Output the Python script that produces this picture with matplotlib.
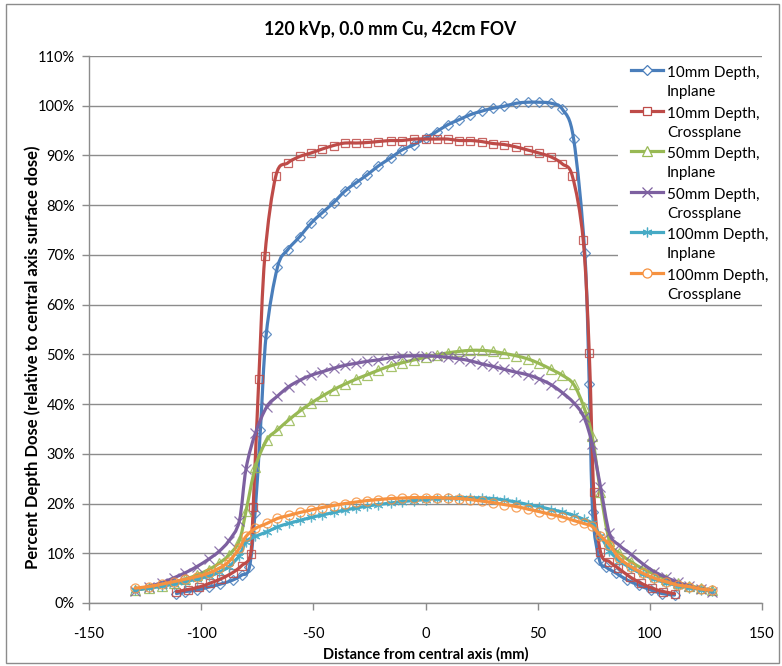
import matplotlib
matplotlib.use("Agg")
import matplotlib.pyplot as plt
from matplotlib.path import Path
from matplotlib.patches import PathPatch, Rectangle
from matplotlib.lines import Line2D
from matplotlib.legend_handler import HandlerLine2D
from matplotlib.ticker import FuncFormatter, MultipleLocator
import numpy as np

plt.rcParams['font.family'] = ['Lato', 'DejaVu Sans']
plt.rcParams['axes.unicode_minus'] = False

# ---- data: distance from central axis (mm) and percent depth dose (%) ----
x_10_in = [-111, -107, -102, -96.7, -91.4, -86, -82, -78.5, -76, -73.6, -71, -66,
           -61.5, -56, -51, -46, -41, -36, -31, -26, -21, -15.5, -10.5, -5, 0, 5,
           10, 15, 20, 25, 30, 35, 40.5, 45.5, 50.5, 56, 61, 66, 71, 73, 74.5, 77.5,
           80.5, 85, 90, 95, 100.5, 105.5, 111]
y_10_in = [1.9, 2.3, 2.6, 3.2, 3.8, 4.6, 5.6, 7.2, 18, 34.8, 54, 67.5,
           71, 73.7, 76.4, 78.5, 80.5, 82.8, 84.5, 86.1, 87.9, 89.5, 91.1, 92.2, 93.5, 94.8,
           96.2, 97.2, 98.2, 98.9, 99.5, 99.9, 100.5, 100.7, 100.7, 100.5, 99.3, 93.4, 70.4, 44, 18.4, 8.7,
           7.2, 6.0, 4.6, 3.6, 2.6, 1.9, 1.6]

x_10_cross = [-111, -106, -101, -96, -91, -86, -82, -78, -76.8, -74.3, -71.6, -66.7,
              -61.4, -56, -51, -46, -41, -36, -31, -26, -21, -15.5, -10.5, -5, 0, 5,
              10, 15, 20, 25, 30, 35, 40.5, 45.5, 50.5, 56, 61, 65.5, 70.3, 73, 75, 78,
              82, 86, 91, 96, 101, 106, 111]
y_10_cross = [2.3, 2.7, 3.2, 4.0, 4.9, 6.1, 7.5, 9.8, 19.4, 45.1, 69.8, 85.9,
              88.5, 89.8, 90.5, 91.3, 92.0, 92.5, 92.5, 92.6, 92.8, 93.0, 93.0, 93.3, 93.3, 93.3,
              93.3, 93.0, 93.0, 92.8, 92.4, 92.2, 91.7, 91.1, 90.5, 89.7, 88.3, 85.8, 73.0, 50.3, 22.4, 10.3,
              8.3, 7.0, 5.3, 4.0, 3.0, 2.3, 1.9]

x_deep = [-129.4, -123.4, -117.5, -112, -107, -102, -96.7, -92, -87.7, -83, -80, -75.8,
          -70.7, -66, -61, -56, -51, -46, -41, -36, -31, -26, -21, -15.5, -10.5, -5, 0,
          5, 10, 15, 20, 25, 30, 35, 40.5, 45.5, 50.5, 56, 61, 66, 70.5, 74.3, 78, 82,
          86.4, 91.6, 96.8, 102, 107, 112.4, 117.6, 122.8, 127.8]

y_50_in = [2.6, 3.0, 3.5, 4.1, 4.8, 5.6, 6.7, 8.0, 9.6, 12.5, 18.5, 27.4,
           32.8, 34.8, 36.8, 38.6, 40.2, 41.6, 42.9, 44.0, 45.0, 45.9, 46.8, 47.7, 48.3, 48.9, 49.4,
           49.9, 50.3, 50.6, 50.8, 50.8, 50.6, 50.2, 49.7, 49.1, 48.2, 47.0, 45.8, 44.0, 39.5, 33.5, 22.4, 12.5,
           10.0, 8.3, 6.9, 5.8, 4.9, 4.1, 3.5, 3.0, 2.6]

y_50_cross = [2.5, 3.3, 4.1, 5.1, 6.1, 7.3, 8.8, 10.4, 12.5, 16.5, 27.0, 34.2,
              39.5, 41.6, 43.5, 44.8, 45.8, 46.5, 47.2, 47.8, 48.2, 48.6, 48.9, 49.3, 49.6, 49.7, 49.7,
              49.6, 49.4, 49.1, 48.7, 48.1, 47.6, 47.0, 46.4, 45.9, 45.1, 43.9, 42.3, 40.3, 37.5, 32.0, 23.4, 14.0,
              11.6, 9.8, 7.9, 6.3, 5.2, 4.2, 3.4, 2.8, 2.3]

y_100_in = [2.6, 3.0, 3.4, 3.8, 4.3, 4.8, 5.4, 6.2, 7.3, 9.5, 12.3, 13.4,
            14.3, 15.3, 16.0, 16.6, 17.2, 17.7, 18.2, 18.7, 19.1, 19.5, 19.8, 20.1, 20.4, 20.6, 20.8,
            21.0, 21.1, 21.2, 21.2, 21.1, 21.0, 20.7, 20.3, 19.8, 19.4, 18.8, 18.3, 17.6, 16.8, 16.0, 13.5, 10.5,
            8.5, 7.0, 5.8, 4.8, 4.1, 3.5, 3.1, 2.7, 2.5]

y_100_cross = [3.0, 3.3, 3.8, 4.3, 4.8, 5.3, 6.0, 7.0, 8.3, 11.0, 13.4, 15.0,
               16.0, 17.0, 17.6, 18.2, 18.7, 19.2, 19.6, 20.0, 20.3, 20.6, 20.8, 21.0, 21.1, 21.2, 21.2,
               21.2, 21.1, 21.0, 20.8, 20.5, 20.2, 19.8, 19.4, 18.9, 18.4, 17.8, 17.3, 16.6, 16.0, 15.4, 13.5, 11.7,
               9.0, 7.3, 6.0, 5.0, 4.3, 3.6, 3.3, 2.8, 2.6]

labels = ["10mm Depth,\nInplane", "10mm Depth,\nCrossplane",
          "50mm Depth,\nInplane", "50mm Depth,\nCrossplane",
          "100mm Depth,\nInplane", "100mm Depth,\nCrossplane"]

series = [(x_10_in, y_10_in), (x_10_cross, y_10_cross),
          (x_deep, y_50_in), (x_deep, y_50_cross),
          (x_deep, y_100_in), (x_deep, y_100_cross)]

colors = ["#4A7EBB", "#BE4B48", "#98B954", "#7D60A0", "#46AAC5", "#F69240"]
markers = ["D", "s", "^", "x", (6, 2, 0), "o"]
msizes = [5.5, 6, 6.5, 6.5, 7, 6.5]

title = "120 kVp, 0.0 mm Cu, 42cm FOV"
xlabel = "Distance from central axis (mm)"
ylabel = "Percent Depth Dose (relative to central axis surface dose)"


def smooth_path(xs, ys):
    """Cubic Bezier path through the points (Catmull-Rom style smoothing)."""
    p = np.column_stack([xs, ys]).astype(float)
    n = len(p)
    verts = [p[0]]
    codes = [Path.MOVETO]
    for i in range(n - 1):
        p0 = p[i - 1] if i > 0 else p[i]
        p1 = p[i]
        p2 = p[i + 1]
        p3 = p[i + 2] if i + 2 < n else p[i + 1]
        c1 = p1 + (p2 - p0) / 6.0
        c2 = p2 - (p3 - p1) / 6.0
        verts += [c1, c2, p2]
        codes += [Path.CURVE4] * 3
    return Path(verts, codes)


class FirstLineHandler(HandlerLine2D):
    """Legend line sample aligned with the first line of a two-line label."""
    def __init__(self, shift, **kw):
        super().__init__(**kw)
        self.shift = shift

    def create_artists(self, legend, orig_handle, xdescent, ydescent, width,
                       height, fontsize, trans):
        arts = super().create_artists(legend, orig_handle, xdescent, ydescent,
                                      width, height, fontsize, trans)
        for a in arts:
            a.set_ydata(np.asarray(a.get_ydata()) + self.shift)
        return arts


fig = plt.figure(figsize=(7.82, 6.66), dpi=100)
ax = fig.add_axes([89 / 782, 63 / 666, (762 - 89) / 782, (603 - 56) / 666])

grid_c = "#8C8C8C"
handles = []
for k, ((xs, ys), c, m, ms, lab) in enumerate(zip(series, colors, markers, msizes, labels)):
    z = 3 + 2 * k
    ax.add_patch(PathPatch(smooth_path(xs, ys), fill=False, edgecolor=c, lw=2.3,
                           capstyle="round", joinstyle="round", zorder=z))
    ax.plot(xs, ys, linestyle="none", marker=m, markersize=ms,
            markerfacecolor="none", markeredgecolor=c, markeredgewidth=0.9,
            alpha=0.85, zorder=z + 1)
    handles.append(Line2D([0], [0], color=c, lw=2.3, marker=m, markersize=ms,
                          markerfacecolor="white", markeredgecolor=c, markeredgewidth=0.9))

ax.set_xlim(-150, 150)
ax.set_ylim(0, 110)
ax.xaxis.set_major_locator(MultipleLocator(50))
ax.yaxis.set_major_locator(MultipleLocator(10))
ax.yaxis.set_major_formatter(FuncFormatter(lambda v, _: f"{v:.0f}%"))

ax.grid(axis="y", color=grid_c, lw=1.0, zorder=0)
ax.set_axisbelow(True)
for s in ["top", "right"]:
    ax.spines[s].set_visible(False)
for s in ["left", "bottom"]:
    ax.spines[s].set_color(grid_c)
    ax.spines[s].set_linewidth(1.0)
ax.tick_params(axis="both", direction="out", length=5, width=1.0, color=grid_c,
               labelsize=10.5, labelcolor="black")
ax.tick_params(axis="x", pad=12)
ax.tick_params(axis="y", pad=5)

ax.set_xlabel(xlabel, fontsize=10.5, fontweight="bold", labelpad=5)
ax.set_ylabel(ylabel, fontsize=12, fontweight="bold")
ax.yaxis.set_label_coords(-0.072, 0.45)
fig.text(390 / 782, 1 - 30 / 666, title, ha="center", va="center",
         fontsize=12.7, fontweight="bold")

# white panel behind the legend hides the gridlines there
ax.add_patch(Rectangle((618 / 782, 1 - 300 / 666), 164 / 782, 240 / 666,
                       transform=fig.transFigure, facecolor="white",
                       edgecolor="none", zorder=1, clip_on=False))

leg = fig.legend(handles, labels, loc="upper left",
                 bbox_to_anchor=(631 / 782, 1 - 66 / 666),
                 frameon=False, fontsize=11, handlelength=2.1, handletextpad=0.25,
                 labelspacing=0.5, borderpad=0.0, borderaxespad=0,
                 handler_map={h: FirstLineHandler(9.0) for h in handles})
for t in leg.get_texts():
    t.set_linespacing(1.45)

fig.patches.append(Rectangle((6 / 782, 3 / 666), 773 / 782, 659 / 666,
                             transform=fig.transFigure, fill=False,
                             edgecolor="#8C8C8C", lw=1.0))

fig.savefig("out.png", dpi=100)
